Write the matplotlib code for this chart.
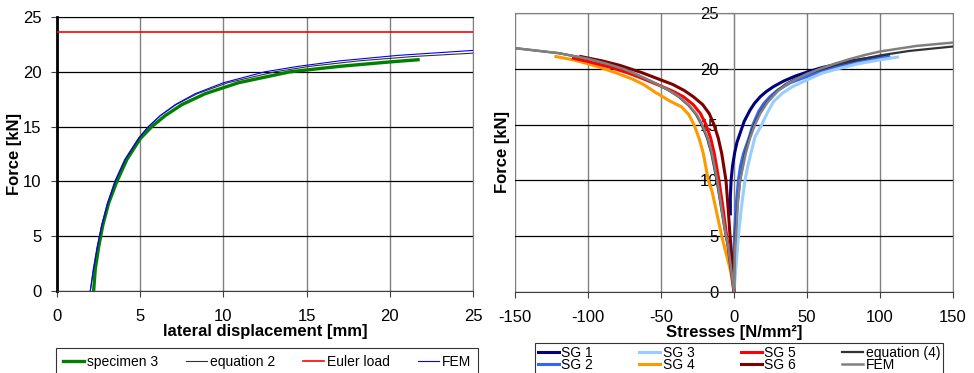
import matplotlib.pyplot as plt

plt.rcParams['font.family'] = ['Liberation Sans', 'DejaVu Sans']
plt.rcParams['axes.unicode_minus'] = False

# ---- left chart: lateral displacement [mm] vs force [kN]
spec3_x = [2.2, 2.3, 2.5, 2.75, 3.1, 3.6, 4.2, 5.0, 5.7, 6.5, 7.5, 8.9, 10.9, 14.0, 17.0, 20.0, 21.7]
spec3_y = [0, 2, 4, 6, 8, 10, 12, 13.9, 15, 16, 17, 18, 19, 20, 20.5, 20.9, 21.1]

eq2_x = [2.0, 2.18, 2.41, 2.68, 3.03, 3.47, 4.07, 4.92, 5.49, 6.21, 7.15, 8.43, 10.26, 13.1, 15.2, 18.15, 21.45, 25.0]
eq2_y = [0, 2, 4, 6, 8, 10, 12, 14, 15, 16, 17, 18, 19, 20, 20.5, 21, 21.4, 21.7]

fem_x = [2.0, 2.2, 2.42, 2.7, 3.05, 3.5, 4.1, 4.95, 5.5, 6.2, 7.1, 8.3, 10.0, 12.5, 14.5, 17.0, 20.5, 25.0]
fem_y = [0, 2, 4, 6, 8, 10, 12, 14, 15, 16, 17, 18, 19, 20, 20.5, 21, 21.5, 21.95]

euler_load = 23.6

# ---- right chart: stresses [N/mm2] vs force [kN]
sg1_x = [-2.5, -2.5, -2.0, -1.0, 0.5, 2.0, 4.1, 7.0, 11, 14, 18, 22, 27, 34, 42, 50, 60, 70, 80, 90, 105]
sg1_y = [7.0, 8.5, 10, 11.3, 12.5, 13.4, 14.2, 15.3, 16.3, 16.9, 17.5, 17.95, 18.4, 18.9, 19.35, 19.7,
         20.1, 20.4, 20.7, 20.9, 21.15]

sg2_x = [0, 0.1, 0.3, 1.3, 3.0, 4.5, 6.5, 10.5, 13, 17, 20.5, 24.7, 30, 38.5, 49.8, 60, 72.6, 85, 100, 106]
sg2_y = [0, 2, 5, 7.5, 10, 11.3, 12.4, 13.9, 15, 16.2, 16.9, 17.5, 18.1, 18.75, 19.3, 19.8, 20.25, 20.6,
         20.95, 21.1]

sg3_x = [0, 1.2, 3.0, 5.0, 7.5, 9.5, 11.5, 14.4, 19, 23, 27, 33, 40, 50, 60, 72.6, 85, 100, 112]
sg3_y = [0, 2, 5, 7.5, 10, 11.3, 12.4, 13.9, 15, 16.1, 17.05, 17.8, 18.4, 19.0, 19.6, 20.05, 20.45, 20.8, 21.05]

sg4_x = [0, -1.2, -2.5, -5.5, -8.4, -12.5, -15, -17.6, -21, -24, -27.4, -31, -36, -43.8, -50, -54, -62, -70,
         -80, -90, -100, -110, -122]
sg4_y = [0, 1, 2, 3.5, 5, 7.5, 9, 10, 12.4, 13.8, 15, 15.9, 16.6, 17.1, 17.6, 17.9, 18.6, 19.1,
         19.6, 20.05, 20.45, 20.8, 21.1]

sg5_x = [0, -2, -5, -7.5, -10.3, -13.5, -16, -19.2, -23, -28, -34.7, -42, -50, -62, -72, -85, -100, -110]
sg5_y = [0, 2, 5, 7.5, 10, 12.4, 13.8, 15, 16, 16.8, 17.5, 18.0, 18.45, 19.1, 19.6, 20.15, 20.65, 20.95]

sg6_x = [0, -1, -2, -2.7, -4, -5.5, -8.4, -10.8, -13.7, -17, -21.5, -27.9, -34, -42, -50, -63, -78, -90, -105]
sg6_y = [0, 2, 4, 5, 7.5, 10, 12.4, 13.8, 15, 16, 16.8, 17.5, 18.05, 18.6, 19.0, 19.65, 20.3, 20.7, 21.1]

eq4_x = [-150, -120, -100, -87, -75, -66, -57, -50, -44, -38, -31, -26, -22.3, -18.5, -15.5, -11.9, -8.8,
         -6.3, -4, -2, 0,
         0.2, 0.6, 1.3, 2.5, 4.2, 7.5, 10.5, 13.8, 17.5, 22.5, 29.5, 35, 42, 50, 60, 70, 85, 100, 120, 150]
eq4_y = [21.85, 21.4, 20.9, 20.45, 19.95, 19.45, 18.9, 18.45, 18.0, 17.5, 16.7, 15.9, 15, 13.8, 12.4, 10, 7.5,
         5.5, 4, 2, 0,
         2, 4, 6, 8, 10, 12.4, 13.8, 15, 16, 17, 18, 18.6, 19.1, 19.55, 19.95, 20.35, 20.8, 21.2, 21.6, 22.0]

femr_x = [-150, -120, -100, -87, -75, -66, -57, -50, -43.5, -37.5, -30.5, -25.5, -21.8, -18, -15, -11.5, -8.5,
          -6.1, -3.9, -1.9, 0,
          0.3, 0.8, 1.4, 2.7, 4.2, 8, 11, 14.4, 18, 23, 30, 36, 43, 50, 60, 70, 80, 90, 100, 125, 150]
femr_y = [21.85, 21.4, 20.9, 20.45, 19.95, 19.45, 18.9, 18.45, 18.0, 17.5, 16.7, 15.9, 15, 13.8, 12.4, 10, 7.5,
          5.5, 4, 2, 0,
          2, 4, 5, 8, 10, 12.4, 13.8, 15, 16, 17, 18, 18.6, 19.1, 19.55, 20.05, 20.5, 20.9, 21.25, 21.55,
          22.05, 22.35]

fig = plt.figure(figsize=(9.74, 3.73), dpi=100)
ax1 = fig.add_axes([57 / 974, 82 / 373, 416 / 974, 274 / 373])
ax2 = fig.add_axes([515 / 974, 81 / 373, 438 / 974, 279 / 373])

# left chart
l1, = ax1.plot(spec3_x, spec3_y, color='#008000', lw=2.4, zorder=3)
l2, = ax1.plot(eq2_x, eq2_y, color='#333333', lw=0.8, zorder=3)
l3 = ax1.axhline(euler_load, color='#ff0000', lw=1.2, zorder=3)
l4, = ax1.plot(fem_x, fem_y, color='#0000ff', lw=0.8, zorder=3)

ax1.set_xlim(0, 25)
ax1.set_ylim(0, 25)
ax1.set_xticks(range(0, 26, 5))
ax1.set_yticks(range(0, 26, 5))
ax1.xaxis.grid(True, color='#808080', lw=1.0)
ax1.yaxis.grid(True, color='#000000', lw=0.9)
ax1.spines['left'].set_linewidth(2.0)
ax1.spines['left'].set_color('black')
ax1.spines['bottom'].set_color('#404040')
ax1.spines['top'].set_color('black')
ax1.spines['right'].set_color('#808080')
ax1.tick_params(direction='out', length=4, width=0.8, labelsize=12, color='#404040')
ax1.tick_params(axis='y', pad=7)
ax1.tick_params(axis='x', pad=9)
ax1.set_xlabel('lateral displacement [mm]', fontsize=12, fontweight='bold', labelpad=0)
ax1.set_ylabel('Force [kN]', fontsize=12, fontweight='bold')
ax1.yaxis.set_label_coords(-0.084, 0.5)

leg1 = fig.legend([l1, l2, l3, l4], ['specimen 3', 'equation 2', 'Euler load', 'FEM'],
                  loc='upper left', bbox_to_anchor=(56 / 974, 1 - 348 / 373, 422 / 974, 0.0),
                  ncol=4, mode='expand', fontsize=10, frameon=True, fancybox=False,
                  edgecolor='black', handlelength=1.5, handletextpad=0.2,
                  borderaxespad=0, borderpad=0.5)
leg1.get_frame().set_linewidth(0.8)

# right chart
colors = ['#000080', '#3366ff', '#99ccff', '#ff9900', '#ff0000', '#800000']
series = [(sg1_x, sg1_y), (sg2_x, sg2_y), (sg3_x, sg3_y),
          (sg4_x, sg4_y), (sg5_x, sg5_y), (sg6_x, sg6_y)]
handles = []
for (sx, sy), c in zip(series, colors):
    h, = ax2.plot(sx, sy, color=c, lw=2.2, zorder=3)
    handles.append(h)
h_eq4, = ax2.plot(eq4_x, eq4_y, color='#333333', lw=1.6, zorder=3)
h_fem, = ax2.plot(femr_x, femr_y, color='#808080', lw=1.8, zorder=3)

ax2.set_xlim(-150, 150)
ax2.set_ylim(0, 25)
ax2.set_xticks(range(-150, 151, 50))
ax2.set_yticks(range(0, 26, 5))
ax2.xaxis.grid(True, color='#808080', lw=1.0)
ax2.yaxis.grid(True, color='#000000', lw=0.9)
ax2.spines['left'].set_position(('data', 0))
ax2.spines['left'].set_color('#808080')
ax2.spines['bottom'].set_color('#404040')
ax2.spines['top'].set_color('#808080')
ax2.spines['right'].set_color('#808080')
ax2.tick_params(direction='out', length=4, width=0.8, labelsize=12, color='#404040')
ax2.tick_params(axis='y', pad=7)
ax2.tick_params(axis='x', pad=9)
ax2.set_xlabel('Stresses [N/mm²]', fontsize=12, fontweight='bold', labelpad=0)
ax2.set_ylabel('Force [kN]', fontsize=12, fontweight='bold')
ax2.yaxis.set_label_coords(-0.012, 0.5)

order = [handles[0], handles[1], handles[2], handles[3], handles[4], handles[5], h_eq4, h_fem]
labels = ['SG 1', 'SG 2', 'SG 3', 'SG 4', 'SG 5', 'SG 6', 'equation (4)', 'FEM']
leg2 = fig.legend(order, labels, loc='upper left',
                  bbox_to_anchor=(535 / 974, 1 - 343 / 373, 408 / 974, 0.0),
                  ncol=4, mode='expand', fontsize=10, frameon=True, fancybox=False,
                  edgecolor='black', handlelength=1.5, handletextpad=0.2,
                  labelspacing=-0.12, borderaxespad=0, borderpad=0.2)
leg2.get_frame().set_linewidth(0.8)

fig.savefig('out.png', dpi=100)
